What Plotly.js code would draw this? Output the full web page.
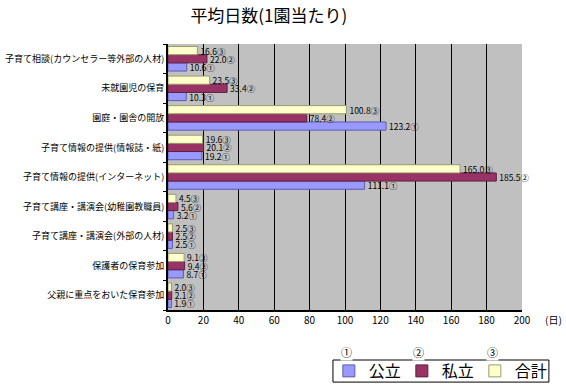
<!DOCTYPE html>
<html><head><meta charset="utf-8">
<script src="https://cdn.plot.ly/plotly-3.0.1.min.js"></script>
<style>body{margin:0;background:#fff}#c{width:566px;height:385px}</style>
</head><body><div id="c"></div>
<script>
const categories = [
  "子育て相談(カウンセラー等外部の人材)",
  "未就園児の保育",
  "園庭・園舎の開放",
  "子育て情報の提供(情報誌・紙)",
  "子育て情報の提供(インターネット)",
  "子育て講座・講演会(幼稚園教職員)",
  "子育て講座・講演会(外部の人材)",
  "保護者の保育参加",
  "父親に重点をおいた保育参加"
];
const seriesNames = ["公立", "私立", "合計"];
const marks = ["①", "②", "③"];
const publicVals  = [10.6, 10.3, 123.2, 19.2, 111.1, 3.2, 2.5, 8.7, 1.9];
const privateVals = [22.0, 33.4, 78.4, 20.1, 185.5, 5.6, 2.5, 9.4, 2.1];
const totalVals   = [16.6, 23.5, 100.8, 19.6, 165.0, 4.5, 2.5, 9.1, 2.0];
const xTicks = [0, 20, 40, 60, 80, 100, 120, 140, 160, 180, 200];

const colors = ["#9999ff", "#993366", "#ffffcc"];
const edges = ["#5c5cb0", "#5e1f40", "#9a9a70"];
const allVals = [publicVals, privateVals, totalVals];

const FONT = '"Noto Sans CJK JP", "Noto Sans", sans-serif';

const traces = allVals.map((vals, i) => ({
  type: 'bar',
  orientation: 'h',
  name: seriesNames[i],
  y: categories,
  x: vals,
  text: vals.map(v => v.toFixed(1) + marks[i]),
  textposition: 'outside',
  constraintext: 'none',
  cliponaxis: false,
  textfont: {size: 8.5, color: '#000', family: FONT},
  marker: {color: colors[i], line: {color: edges[i], width: 1}},
  hoverinfo: 'skip'
}));

const circ = (t, x) => ({text: t, xref: 'paper', yref: 'paper', x: x, y: -0.158,
  xanchor: 'center', yanchor: 'middle', showarrow: false,
  font: {size: 11, family: FONT}, bgcolor: '#fff', borderpad: 0});

const layout = {
  width: 566, height: 385,
  margin: {l: 168, r: 44, t: 44, b: 75, autoexpand: false},
  paper_bgcolor: '#ffffff',
  plot_bgcolor: '#c0c0c0',
  font: {family: FONT, size: 9, color: '#000'},
  title: {text: '平均日数(1園当たり)', x: 0.475, xanchor: 'center', y: 0.975, yanchor: 'top',
          font: {size: 17, family: FONT, color: '#000'}},
  barmode: 'group',
  bargap: 0.17,
  bargroupgap: 0,
  xaxis: {
    range: [0, 200], tickvals: xTicks, ticktext: xTicks.map(String),
    showgrid: true, gridcolor: '#000', gridwidth: 1,
    zeroline: false, showline: true, linecolor: '#000', linewidth: 2,
    ticks: 'inside', ticklen: 5, tickcolor: '#000',
    tickfont: {size: 10, family: FONT}, fixedrange: true
  },
  yaxis: {
    type: 'category', categoryorder: 'array', categoryarray: categories.slice().reverse(),
    showgrid: false, zeroline: false, showline: true, linecolor: '#000', linewidth: 2,
    ticks: 'outside', tickson: 'boundaries', ticklen: 3, tickcolor: '#000',
    tickfont: {size: 9, family: FONT}, fixedrange: true
  },
  showlegend: true,
  legend: {
    orientation: 'h', xref: 'container', yref: 'container',
    x: 0.581, xanchor: 'left', y: 0.0364, yanchor: 'middle',
    borderwidth: 0, bgcolor: 'rgba(0,0,0,0)',
    font: {size: 16, family: FONT, color: '#000'},
    itemwidth: 30, entrywidth: 28, tracegroupgap: 0
  },
  shapes: [
    {type: 'rect', xref: 'paper', yref: 'paper', x0: 0.466, x1: 1.076, y0: -0.188, y1: -0.271,
     line: {color: '#000', width: 1}, fillcolor: '#fff', layer: 'above'}
  ],
  annotations: [
    {text: '(日)', xref: 'paper', yref: 'paper', x: 1.06, y: 0.0, xanchor: 'left', yanchor: 'top',
     showarrow: false, font: {size: 10, family: FONT}},
    circ('①', 0.503), circ('②', 0.709), circ('③', 0.916)
  ]
};

Plotly.newPlot('c', traces, layout, {displayModeBar: false, staticPlot: true});
</script></body></html>
